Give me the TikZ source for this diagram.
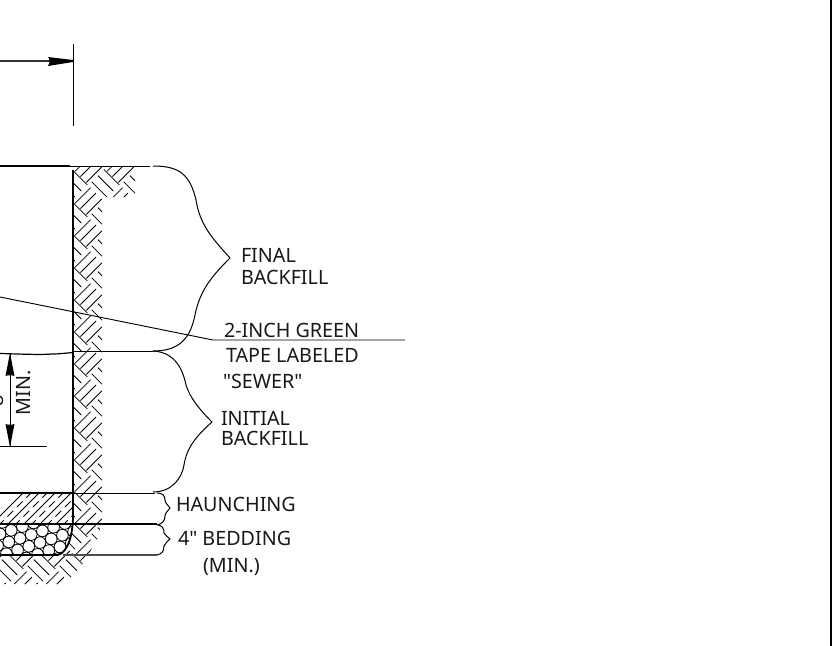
\documentclass[tikz,border=0pt]{standalone}
\usepackage{fontspec}
\newfontfamily\lblfont{Noto Sans}
\begin{document}
\begin{tikzpicture}[x=0.75pt,y=-0.75pt,
  lbl/.style={anchor=base west,inner sep=0pt,outer sep=0pt,font=\lblfont\fontsize{14.8}{16}\selectfont,text=black!90},
  thin line/.style={line width=0.7pt,black},
  thick line/.style={line width=1.35pt,black},
  brace line/.style={line width=0.75pt,black}]
\useasboundingbox (0,0) rectangle (832,646);
\fill[white] (0,0) rectangle (832,646);
% hatch of the soil
\begin{scope}
\clip (73,166) -- (135,166) -- (135,197) -- (102,197) -- (102,522) -- (97,540) -- (82,565) -- (65,584) -- (0,584) -- (0,555) -- (58,555) .. controls (68,552) and (73,535) .. (73,520) -- cycle;
\begin{scope}[x={(0.53033pt,0.53033pt)},y={(0.53033pt,-0.53033pt)}]
\draw[line width=0.6pt] foreach \a in {-6,...,8} { foreach \b in {-8,...,15} {
  ({-68+22.627*(\a-\b)},{174.2+22.627*(\a+\b)}) -- ++(22,0)
  ({-68+22.627*(\a-\b)},{181.7+22.627*(\a+\b)}) -- ++(22,0)
  ({-68+22.627*(\a-\b)},{190+22.627*(\a+\b)}) -- ++(22,0)
  ({-63.7+22.627*(\a-\b)},{193.3+22.627*(\a+\b)}) -- ++(0,22)
  ({-55+22.627*(\a-\b)},{193.3+22.627*(\a+\b)}) -- ++(0,22)
  ({-46.4+22.627*(\a-\b)},{193.3+22.627*(\a+\b)}) -- ++(0,22)
  } };
\end{scope}
\end{scope}
% haunching hatch
\begin{scope}
\clip (0,493) rectangle (73,524);
\draw[line width=0.6pt] foreach \i in {0,...,7} { (\i*16-10,526) -- ++(36,-36) };
\draw[line width=0.6pt,dash pattern=on 6pt off 4pt] foreach \i in {0,...,7} { (\i*16-2,526) -- ++(36,-36) };
\end{scope}
% stones
\begin{scope}
\clip (0,524) -- (73,524) .. controls (72,540) and (66,552) .. (58,555) -- (0,555) -- cycle;
\draw[line width=0.55pt] foreach \a in {-4,...,9} { foreach \b in {-3,...,5} {
  ({\a*11.2+\b*8.8},{534-\a*3.7+\b*8}) circle (5.8) } };
\end{scope}
% trench outline
\draw[thin line] (73,44) -- (73,126);
\draw[thick line] (73,170) -- (73,515) .. controls (73,535) and (68,552) .. (58,555);
\draw[thick line] (0,166) -- (70,166);
\draw[thin line] (70,166) -- (150,166);
\draw[thick line] (0,493) -- (73,493);
\draw[thin line] (73,493) -- (155,493);
\draw[thick line] (0,524) -- (157,524);
\draw[thick line] (0,555) -- (58,555);
\draw[line width=1.1pt,black!70] (63,555) -- (157,555);
% dimension top
\coordinate (dimL) at (0,61);
\coordinate (dimR) at (73,61);
\draw[line width=0.8pt,black!80] (dimL) -- (50,61);
\fill (48,57) .. controls (50,59) and (50,63) .. (48,66) -- (73,62) -- (73,60) -- cycle;
% ground line
\draw[line width=0.9pt] (0,353.5) .. controls (20,354) and (40,355) .. (52,354) .. controls (60,354) and (66,353) .. (73,352.5);
\draw[thin line] (73,351.5) -- (153,351.5);
% leader
\coordinate (leadA) at (0,297);
\coordinate (leadB) at (213,340);
\coordinate (leadC) at (405,340);
\draw[thin line] (leadA) -- (leadB) -- (leadC);
% braces
\draw[brace line] (153,166) .. controls (180,166) and (190,175) .. (196,200) .. controls (200,225) and (212,238) .. (230,258)
  .. controls (212,276) and (200,290) .. (195,315) .. controls (190,340) and (178,351) .. (153,351);
\draw[brace line] (153,351) .. controls (172,352) and (182,365) .. (186,385) .. controls (190,398) and (200,410) .. (212,422)
  .. controls (200,433) and (187,445) .. (184,465) .. controls (182,478) and (172,492) .. (153,492);
\draw[brace line] (157,493) .. controls (162,493) and (165,495) .. (165,500) .. controls (165,503) and (168,505) .. (170,508)
  .. controls (168,511) and (165,513) .. (165,516) .. controls (165,521) and (162,524) .. (157,525);
\draw[brace line] (158,525) .. controls (163,526) and (164,529) .. (164,533) .. controls (165,535) and (168,537) .. (170,539)
  .. controls (168,541) and (165,543) .. (164,546) .. controls (164,551) and (162,554) .. (157,555);
% min dimension
\coordinate (minTop) at (10,353);
\coordinate (minBot) at (10,447);
\draw[thin line] (minTop) -- (minBot);
\fill (minTop) -- (14.5,376) .. controls (12,375) and (8,375) .. (5.5,376) -- cycle;
\fill (minBot) -- (14.5,424) .. controls (12,425) and (8,425) .. (5.5,424) -- cycle;
\draw[thin line] (0,446.5) -- (47,446.5);
\node[lbl,rotate=90] (minlabel) at (31,415.5) {MIN.};
\node[lbl,rotate=90] (minnum) at (3,406) {8};
% labels
\node[lbl] (final) at (241,262) {FINAL};
\node[lbl] (fb) at (241,284) {BACKFILL};
\node[lbl] (tape1) at (224,337) {2-INCH GREEN};
\node[lbl] (tape2) at (226,362) {TAPE LABELED};
\node[lbl] (tape3) at (223,388) {"SEWER"};
\node[lbl] (init) at (221,425) {INITIAL};
\node[lbl] (ib) at (221,445) {BACKFILL};
\node[lbl] (haun) at (176,511) {HAUNCHING};
\node[lbl] (bed) at (178,545) {4" BEDDING};
\node[lbl] (bedmin) at (203,572) {(MIN.)};
% frame
\draw[line width=1.5pt] (830.5,0) -- (830.5,646);
\end{tikzpicture}
\end{document}
